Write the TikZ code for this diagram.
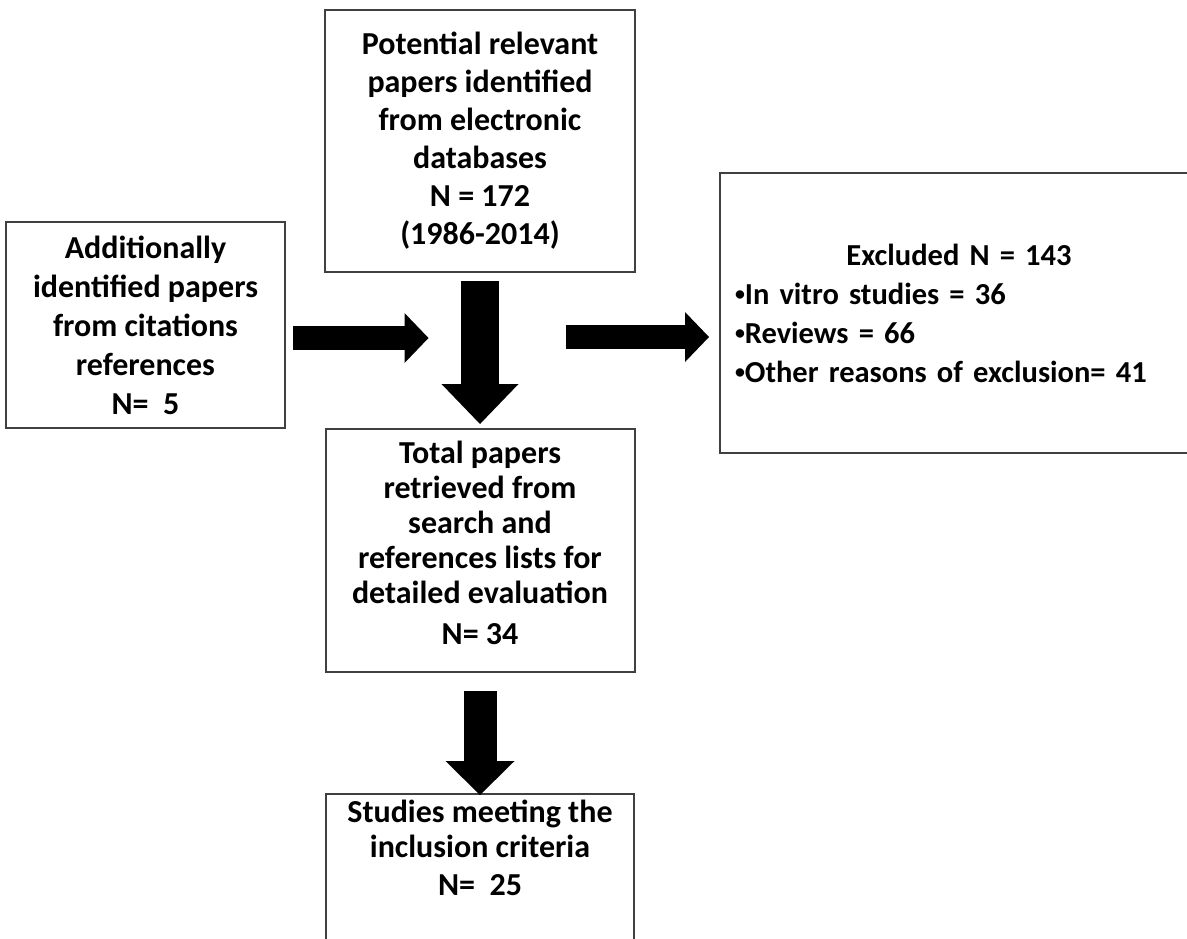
\documentclass[tikz,border=0pt]{standalone}
\usepackage{fontspec}
\setmainfont{Carlito}
\usetikzlibrary{arrows.meta,positioning,calc}

\newcommand{\bul}{\raisebox{0.12em}{\scalebox{0.65}{•}}}
\newcommand{\dropby}[1]{\rule[-#1]{0pt}{#1}}

\begin{document}
\begin{tikzpicture}[
  x=1pt, y=1pt,
  font=\bfseries\fontsize{16}{19.5}\selectfont,
  box/.style={draw=black!75, line width=1pt, align=center, inner sep=0pt},
  tight/.style={font=\bfseries\fontsize{16}{17.5}\selectfont},
  flatarrow/.style={line width=12pt, -{Triangle[length=12pt, width=25pt, line width=0pt]}},
  downarrow/.style={line width=19pt, -{Triangle[length=20pt, width=38.5pt, line width=0pt]}},
  lastarrow/.style={line width=16.5pt, -{Triangle[length=17pt, width=34.5pt, line width=0pt]}}
]
  \clip (0,0) rectangle (593.5,-469);

  % Centre column
  \node[box, font=\bfseries\fontsize{16}{19}\selectfont, minimum width=155pt, minimum height=131pt] (pot) at (240,-70.5)
    {Potential relevant\\papers identified\\from electronic\\databases\\N = 172\\(1986-2014)};
  \node[box, tight, minimum width=154.5pt, minimum height=121.5pt, below=77.5pt of pot] (tot)
    {Total papers\\retrieved from\\search and\\references lists for\\detailed evaluation\\[3pt]N= 34\dropby{7.5pt}};
  \node[box, tight, minimum width=154pt, minimum height=73pt, below=60pt of tot] (stu)
    {Studies meeting the\\inclusion criteria\\[1.5pt]N=~~25\dropby{19pt}};

  % Side boxes
  \node[box, minimum width=139.5pt, minimum height=103pt, left=19pt of pot, yshift=-92pt] (add)
    {Additionally\\identified papers\\from citations\\references\\N=~~5};
  \node[box, font=\bfseries\fontsize{15.25}{19.5}\selectfont, align=left, text width=224pt,
    minimum width=239pt, minimum height=140pt, right=41.5pt of pot, yshift=-86pt] (exc)
    {\makebox[224pt]{Excluded N = 143}\\\bul In vitro studies = 36\\\bul Reviews = 66\\\bul Other reasons of exclusion= 41};

  % Arrows
  \draw[flatarrow, shorten <=3.5pt] ([yshift=-6.5pt]add.east) -- ($(add.east -| tot.north)+(-25.75pt,-6.5pt)$);
  \draw[downarrow, shorten <=4pt, shorten >=2pt] (pot.south -| tot.north) -- (tot.north);
  \draw[flatarrow, shorten >=5pt] ($(exc.west)+(-76.5pt,-12pt)$) -- ([yshift=-12pt]exc.west);
  \draw[lastarrow, shorten <=9pt, shorten >=-1pt] (tot.south) -- (tot.south |- stu.north);
\end{tikzpicture}
\end{document}
